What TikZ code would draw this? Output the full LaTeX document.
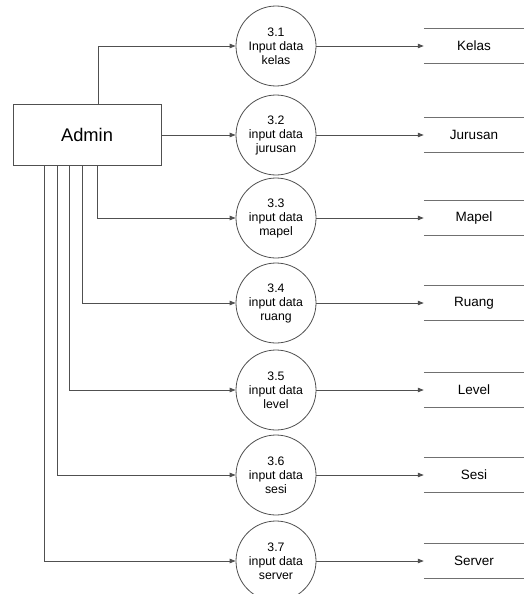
\documentclass[tikz,border=0pt]{standalone}
\usepackage{fontspec}
\setmainfont{Liberation Sans}
\usetikzlibrary{arrows.meta, positioning, shapes}
\definecolor{linegray}{HTML}{505050}
\definecolor{storegray}{HTML}{707070}
\newcommand{\flow}[3]
{
	\draw[flowline] ([xshift=#1]admin.#2) |- (#3.west)
}

\begin{document}
\begin{tikzpicture}[x=1pt, y=-1pt,
	flowline/.style={draw=linegray, line width=0.8pt,
		-{Triangle[length=6pt,width=4.5pt]}},
	entity/.style={rectangle, draw=linegray, line width=0.8pt,
		minimum width=148pt, minimum height=61pt,
		font=\fontsize{18.3}{22}\selectfont},
	process/.style={circle, draw=linegray, line width=0.8pt,
		minimum size=80pt, inner sep=0pt, align=center,
		font=\fontsize{12.3}{14}\selectfont},
	datastore/.style={rectangle, minimum width=100pt,
		minimum height=34pt, font=\fontsize{13.5}{16}\selectfont}]

	\useasboundingbox (0,0) rectangle (524,594);

	\node[entity] at (87, 135) (admin){Admin};

	\node[process] at (276, 46) (p1){3.1\\Input data\\kelas};
	\node[process] at (276, 135) (p2){3.2\\input data\\jurusan};
	\node[process] at (276, 218) (p3){3.3\\input data\\mapel};
	\node[process] at (276, 303) (p4){3.4\\input data\\ruang};
	\node[process] at (276, 390) (p5){3.5\\input data\\level};
	\node[process] at (276, 475) (p6){3.6\\input data\\sesi};
	\node[process] at (276, 561) (p7){3.7\\input data\\server};

	\node[datastore] at (474, 46) (kelas){Kelas};
	\node[datastore] at (474, 135) (jurusan){Jurusan};
	\node[datastore] at (474, 218) (mapel){Mapel};
	\node[datastore] at (474, 303) (ruang){Ruang};
	\node[datastore] at (474, 390) (level){Level};
	\node[datastore] at (474, 475) (sesi){Sesi};
	\node[datastore] at (474, 561) (server){Server};

	\foreach \s in {kelas, jurusan, mapel, ruang, level, sesi, server}
		\draw[draw=storegray, line width=0.8pt] (\s.north west) -- (\s.north east)
			(\s.south west) -- (\s.south east);

	\flow{86pt}{north west}{p1};
	\draw[flowline] (admin.east) -- (p2.west);
	\flow{85pt}{south west}{p3};
	\flow{70pt}{south west}{p4};
	\flow{57pt}{south west}{p5};
	\flow{45pt}{south west}{p6};
	\flow{32pt}{south west}{p7};

	\draw[flowline] (p1.east) -- (kelas.west);
	\draw[flowline] (p2.east) -- (jurusan.west);
	\draw[flowline] (p3.east) -- (mapel.west);
	\draw[flowline] (p4.east) -- (ruang.west);
	\draw[flowline] (p5.east) -- (level.west);
	\draw[flowline] (p6.east) -- (sesi.west);
	\draw[flowline] (p7.east) -- (server.west);
\end{tikzpicture}
\end{document}
